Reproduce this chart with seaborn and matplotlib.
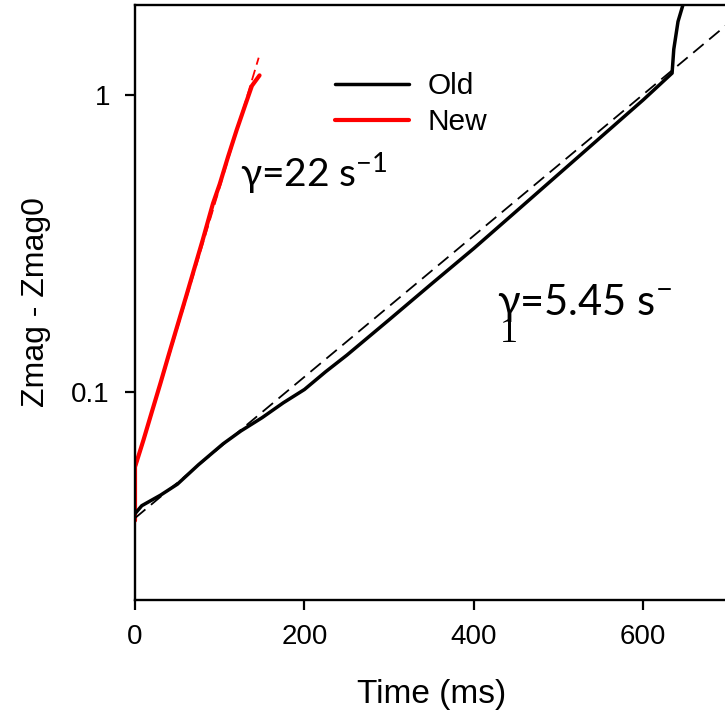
import numpy as np
import pandas as pd
import matplotlib
matplotlib.use('Agg')
import matplotlib.pyplot as plt
import seaborn as sns
from matplotlib.ticker import NullLocator

# 읽어낸 값 (Time ms, Zmag - Zmag0)
old_t = [0, 8, 30, 50, 75, 104, 125, 150, 175, 200, 225, 250, 300, 350, 400, 450, 500, 550,
         600, 634, 636, 641, 649]
old_z = [0.039, 0.0415, 0.045, 0.049, 0.057, 0.067, 0.074, 0.082, 0.092, 0.102, 0.117, 0.133,
         0.175, 0.231, 0.304, 0.405, 0.54, 0.72, 0.96, 1.18, 1.42, 1.76, 2.1]
new_t = [0, 0, 10, 20, 30, 40, 50, 60, 70, 80, 92, 100, 110, 120, 130, 138, 147]
new_z = [0.037, 0.056, 0.069, 0.086, 0.107, 0.134, 0.167, 0.208, 0.26, 0.325, 0.43, 0.5,
         0.62, 0.76, 0.92, 1.07, 1.16]

# 피팅 직선 (로그축에서 직선) 양 끝점
old_fit_t = [0, 700]
old_fit_z = [0.0377, 1.73]
new_fit_t = [0, 146]
new_fit_z = [0.055, 1.33]

xticks = [0, 200, 400, 600]
yticks = [0.1, 1]
ytick_labels = ['0.1', '1']

sns.set_theme(style='ticks')
plt.rcParams['font.family'] = ['Liberation Sans', 'DejaVu Sans']
plt.rcParams['mathtext.default'] = 'regular'
plt.rcParams['text.color'] = 'black'
plt.rcParams['axes.labelcolor'] = 'black'

fig = plt.figure(figsize=(7.25, 7.11), dpi=100)
ax = fig.add_axes([135 / 725, 111 / 711, 593 / 725, 595 / 711])

old_df = pd.DataFrame({'t': old_t, 'z': old_z})
new_df = pd.DataFrame({'t': new_t, 'z': new_z})

sns.lineplot(data=new_df, x='t', y='z', color='red', lw=3, sort=False,
             estimator=None, ax=ax, label='New')
sns.lineplot(x=new_fit_t, y=new_fit_z, color='red', lw=1.3, ax=ax,
             linestyle=(0, (6, 3)), legend=False)
sns.lineplot(data=old_df, x='t', y='z', color='black', lw=2.5, sort=False,
             estimator=None, ax=ax, label='Old')
sns.lineplot(x=old_fit_t, y=old_fit_z, color='black', lw=1.3, ax=ax,
             linestyle=(0, (7.5, 4)), legend=False)

ax.set_yscale('log')
ax.set_xlim(0, 700)
ax.set_ylim(0.02, 2)
ax.set_xticks(xticks)
ax.set_yticks(yticks)
ax.set_yticklabels(ytick_labels)
ax.yaxis.set_minor_locator(NullLocator())
ax.xaxis.set_minor_locator(NullLocator())
ax.tick_params(axis='both', direction='out', length=7, width=1.6, colors='black',
               labelsize=20)
ax.tick_params(axis='x', pad=10)
ax.tick_params(axis='y', pad=11)

for s in ['left', 'bottom', 'top', 'right']:
    ax.spines[s].set_linewidth(1.7)
    ax.spines[s].set_color('black')

ax.set_xlabel('Time (ms)', fontsize=24, labelpad=21)
ax.set_ylabel('Zmag - Zmag0', fontsize=23, labelpad=15)

# 범례 (Old 먼저)
h, l = ax.get_legend_handles_labels()
order = [l.index('Old'), l.index('New')]
ax.legend([h[i] for i in order], [l[i] for i in order], loc='upper left',
          bbox_to_anchor=(0.337, 0.887), frameon=False, fontsize=21.5,
          handlelength=2.5, handletextpad=0.6, labelspacing=0.27,
          borderpad=0, borderaxespad=0)

# 감마 주석
ax.text(124, 0.49, 'γ=22 s$^{-1}$', fontsize=28, va='baseline',
        family=['Lato', 'Liberation Serif'], color='black')
ax.text(427, 0.182, 'γ=5.45 s$^{-}$', fontsize=30, va='baseline',
        family=['Lato', 'Liberation Serif'], color='black')
ax.text(431, 0.1476, '1', fontsize=26, va='baseline',
        family=['Liberation Serif'], color='black')

plt.savefig('out.png', dpi=100)
